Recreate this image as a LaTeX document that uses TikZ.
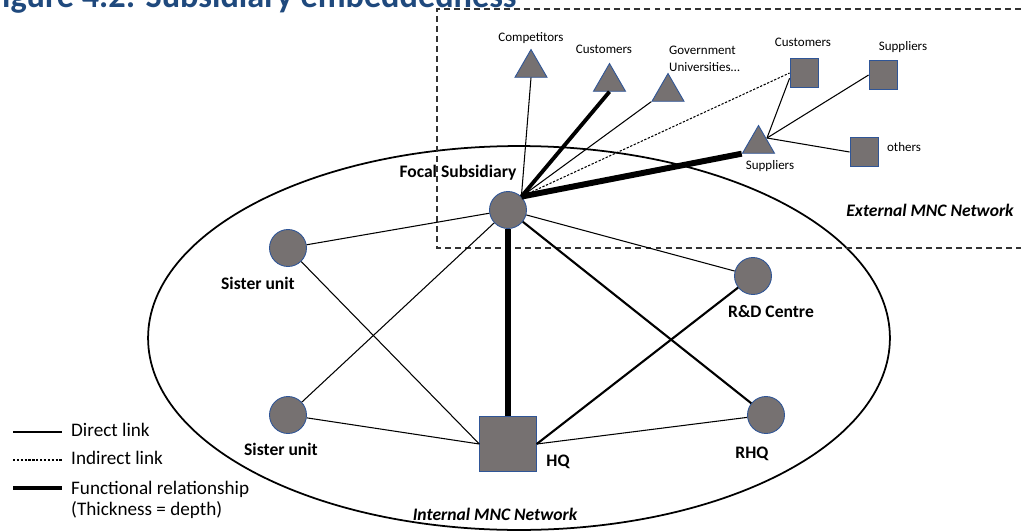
\documentclass[tikz,border=0pt]{standalone}
\usepackage{fontspec}
\setmainfont{Carlito}
\usetikzlibrary{shapes.geometric}
\definecolor{unitgray}{RGB}{118,113,113}
\definecolor{unitblue}{RGB}{47,85,151}
\definecolor{titleblue}{RGB}{31,73,125}

\begin{document}
\begin{tikzpicture}[x=0.02cm,y=-0.02cm,
  unit/.style={circle,fill=unitgray,draw=unitblue,line width=0.5pt,minimum size=0.74cm,inner sep=0pt},
  sqbox/.style={rectangle,fill=unitgray,draw=unitblue,line width=0.5pt,inner sep=0pt,minimum width=0.56cm,minimum height=0.59cm},
  tri/.style={regular polygon,regular polygon sides=3,fill=unitgray,draw=unitblue,line width=0.5pt,inner sep=0pt,minimum size=0.74cm},
  lbl/.style={font=\fontsize{10}{12}\selectfont\bfseries},
  netlbl/.style={font=\fontsize{10}{12}\selectfont\bfseries\itshape},
  small/.style={font=\fontsize{7.4}{9.6}\selectfont,align=left},
  leg/.style={font=\fontsize{10.9}{11.9}\selectfont,anchor=west,align=left},
  direct/.style={line width=0.6pt},
  indirect/.style={line width=0.6pt,dash pattern=on 1.3pt off 0.9pt},
  medium/.style={line width=1.2pt},
  deep/.style={line width=3.4pt}]
  \useasboundingbox (0,0) rectangle (1021,531);
  \clip (0,0) rectangle (1021,531);

  % heading, cut off at the top
  \node[anchor=base west,inner sep=0pt,text=titleblue,font=\fontsize{19.5}{22}\selectfont\bfseries]
    (title) at (-14,7) {Figure 4.2: Subsidiary embeddedness};

  % networks
  \draw[line width=1pt] (519,338) ellipse [x radius=7.42cm, y radius=3.84cm];
  \draw[line width=0.6pt,black!80,dash pattern=on 3.4pt off 2.3pt]
    (1021,9) -- (437,9) -- (437,248) -- (1021,248);

  % internal units
  \node[unit] (focal) at (508,210) {};
  \node[unit] (sis1) at (288,248) {};
  \node[unit] (sis2) at (288,415) {};
  \node[unit] (rnd) at (753,276) {};
  \node[unit] (rhq) at (766,415) {};
  \node[sqbox,minimum width=1.13cm,minimum height=1.1cm] (hq) at (508,444) {};

  % external actors
  \node[tri] (comp) at (531,68) {};
  \node[tri] (cust1) at (609.5,82) {};
  \node[tri] (gov) at (668,92) {};
  \node[tri] (sup1) at (758.5,144) {};
  \node[sqbox] (cust2) at (804,73) {};
  \node[sqbox] (sup2) at (883,75) {};
  \node[sqbox] (others) at (864,152) {};
  \coordinate (suphub) at (767,138);

  % labels
  \node[lbl] (focal-lbl) at (458,173) {Focal Subsidiary};
  \node[lbl] (sis1-lbl) at (258,283) {Sister unit};
  \node[lbl] (sis2-lbl) at (281,449) {Sister unit};
  \node[lbl] (rnd-lbl) at (771,311) {R\&D Centre};
  \node[lbl] (rhq-lbl) at (752,454) {RHQ};
  \node[lbl] (hq-lbl) at (558,462) {HQ};
  \node[netlbl] (int-lbl) at (495,514) {Internal MNC Network};
  \node[netlbl] (ext-lbl) at (930,210) {External MNC Network};
  \node[small] (comp-lbl) at (531,38) {Competitors};
  \node[small] (cust1-lbl) at (604,49) {Customers};
  \node[small,anchor=west] (gov-lbl) at (663,58.5) {Government\\Universities…};
  \node[small] (cust2-lbl) at (803,42) {Customers};
  \node[small] (sup2-lbl) at (903,47) {Suppliers};
  \node[small] (sup1-lbl) at (770,166) {Suppliers};
  \node[small] (others-lbl) at (904,147) {others};

  % internal links
  \draw[direct] (focal) -- (sis1);
  \draw[direct] (focal) -- (sis2);
  \draw[direct] (focal) -- (rnd);
  \draw[medium] (focal) -- (rhq);
  \draw[deep] (focal) -- (hq);
  \draw[direct] (sis1) -- (hq.west);
  \draw[direct] (sis2) -- (hq.west);
  \draw[medium] (hq.east) -- (rnd);
  \draw[direct] (hq.east) -- (rhq);

  % external links
  \draw[direct] (focal.45) -- (comp.side 2);
  \draw[line width=2.2pt] (focal.45) -- (cust1.side 2);
  \draw[direct] (focal.45) -- (gov.corner 2);
  \draw[indirect] (focal.45) -- (cust2.west);
  \draw[deep] (focal.45) -- (sup1.corner 2);
  \draw[direct] (suphub) -- (cust2.200);
  \draw[direct] (suphub) -- (sup2.west);
  \draw[direct] (suphub) -- (others.west);

  % legend
  \coordinate (leg1a) at (13,432); \coordinate (leg1b) at (62,432);
  \coordinate (leg2a) at (13,460); \coordinate (leg2b) at (62,460);
  \coordinate (leg3a) at (13,488); \coordinate (leg3b) at (62,488);
  \draw[direct] (leg1a) -- (leg1b);
  \draw[indirect] (leg2a) -- (leg2b);
  \draw[line width=2pt] (leg3a) -- (leg3b);
  \node[leg] (leg1) at (65,430) {Direct link};
  \node[leg] (leg2) at (65,458) {Indirect link};
  \node[leg] (leg3) at (65,499.5) {Functional relationship\\(Thickness = depth)};
\end{tikzpicture}
\end{document}
